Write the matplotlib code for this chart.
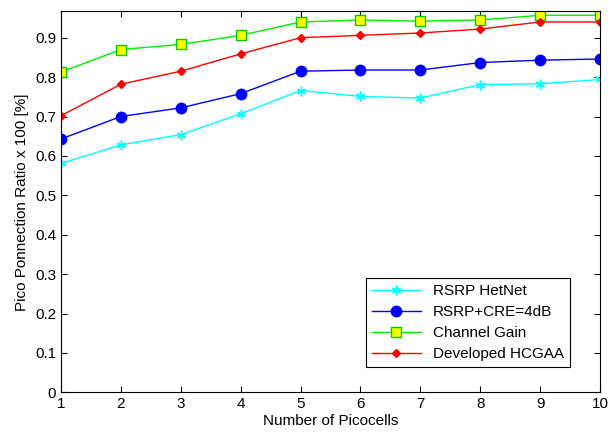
import matplotlib
matplotlib.use('Agg')
import matplotlib.pyplot as plt

plt.rcParams['font.family'] = ['Liberation Sans', 'DejaVu Sans']

picocells = [1, 2, 3, 4, 5, 6, 7, 8, 9, 10]
rsrp_hetnet = [0.581, 0.628, 0.654, 0.707, 0.766, 0.751, 0.747, 0.781, 0.783, 0.794]
rsrp_cre = [0.643, 0.700, 0.722, 0.758, 0.815, 0.818, 0.818, 0.837, 0.843, 0.846]
channel_gain = [0.813, 0.870, 0.883, 0.906, 0.940, 0.945, 0.942, 0.945, 0.957, 0.957]
hcgaa = [0.702, 0.782, 0.815, 0.859, 0.900, 0.906, 0.912, 0.922, 0.940, 0.940]

fig = plt.figure(figsize=(6.08, 4.32), dpi=100)
ax = fig.add_axes([0.1003, 0.0919, 0.8867, 0.8819])

# matlab style asterisk
ax.plot(picocells, rsrp_hetnet, color='cyan', marker=(6, 2, 0), markersize=7, mew=1, lw=1,
        label='RSRP HetNet')
ax.plot(picocells, rsrp_cre, color='blue', marker='o', markersize=7.5, lw=1, label='RSRP+CRE=4dB')
ax.plot(picocells, channel_gain, color='#00ee00', marker='s', markersize=7,
        markerfacecolor='yellow', markeredgecolor='#00cc00', lw=1, label='Channel Gain')
ax.plot(picocells, hcgaa, color='red', marker='D', markersize=4.5, lw=1, label='Developed HCGAA')

ax.set_xlim(1, 10)
ax.set_ylim(0, 0.967)
ax.set_xticks(picocells)
ax.set_yticks([0, 0.1, 0.2, 0.3, 0.4, 0.5, 0.6, 0.7, 0.8, 0.9])
ax.set_yticklabels(['0', '0.1', '0.2', '0.3', '0.4', '0.5', '0.6', '0.7', '0.8', '0.9'])
ax.tick_params(direction='in', top=True, right=True, labelsize=11, length=4)
ax.set_xlabel('Number of Picocells', fontsize=11, labelpad=2)
ax.set_ylabel('Pico Ponnection Ratio x 100 [%]', fontsize=11)

leg = ax.legend(loc='lower right', bbox_to_anchor=(0.944, 0.066), fontsize=11, fancybox=False,
                edgecolor='black', framealpha=1, borderaxespad=0, handlelength=3.2,
                labelspacing=0.45)
leg.get_frame().set_linewidth(0.8)

fig.savefig('out.png', dpi=100)
